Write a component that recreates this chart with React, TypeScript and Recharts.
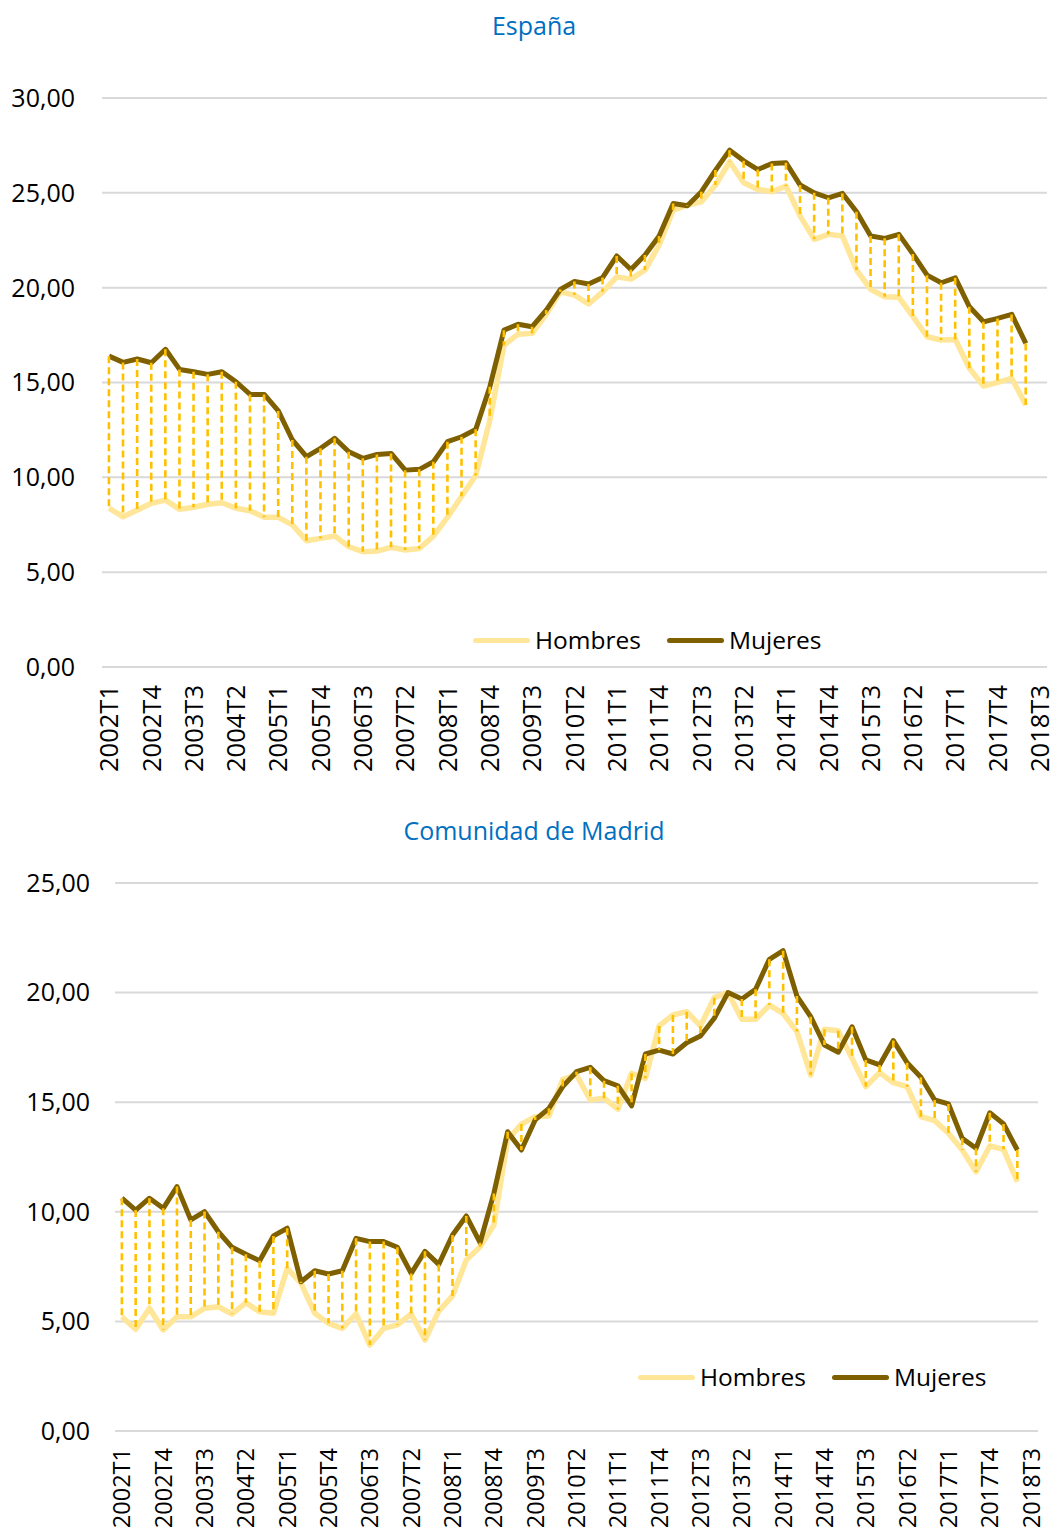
import React from "react";
import {
  ComposedChart,
  Line,
  Bar,
  XAxis,
  YAxis,
  CartesianGrid,
} from "recharts";

const FONT = "'Open Sans', sans-serif";

// trimestres 2002T1 - 2018T3
const quarters = [
  "2002T1", "2002T2", "2002T3", "2002T4", "2003T1", "2003T2", "2003T3", "2003T4",
  "2004T1", "2004T2", "2004T3", "2004T4", "2005T1", "2005T2", "2005T3", "2005T4",
  "2006T1", "2006T2", "2006T3", "2006T4", "2007T1", "2007T2", "2007T3", "2007T4",
  "2008T1", "2008T2", "2008T3", "2008T4", "2009T1", "2009T2", "2009T3", "2009T4",
  "2010T1", "2010T2", "2010T3", "2010T4", "2011T1", "2011T2", "2011T3", "2011T4",
  "2012T1", "2012T2", "2012T3", "2012T4", "2013T1", "2013T2", "2013T3", "2013T4",
  "2014T1", "2014T2", "2014T3", "2014T4", "2015T1", "2015T2", "2015T3", "2015T4",
  "2016T1", "2016T2", "2016T3", "2016T4", "2017T1", "2017T2", "2017T3", "2017T4",
  "2018T1", "2018T2", "2018T3",
];

const espanaHombres = [
  8.37, 7.92, 8.28, 8.63, 8.8, 8.31, 8.42, 8.58, 8.66, 8.37, 8.24, 7.89,
  7.89, 7.49, 6.66, 6.78, 6.91, 6.34, 6.08, 6.11, 6.31, 6.17, 6.25, 6.9,
  7.9, 9.0, 10.1, 13.02, 16.97, 17.55, 17.59, 18.61, 19.78, 19.61, 19.14, 19.78,
  20.57, 20.45, 20.93, 22.25, 24.09, 24.35, 24.53, 25.41, 26.64, 25.53, 25.18, 25.06,
  25.36, 23.77, 22.55, 22.81, 22.72, 20.93, 19.91, 19.52, 19.49, 18.47, 17.41, 17.24,
  17.27, 15.75, 14.81, 15.01, 15.22, 13.81,
];

const espanaMujeres = [
  16.39, 16.06, 16.24, 16.04, 16.75, 15.69, 15.57, 15.43, 15.57, 15.04, 14.37, 14.37,
  13.5, 11.97, 11.09, 11.53, 12.06, 11.35, 11.0, 11.21, 11.26, 10.38, 10.42, 10.82,
  11.88, 12.14, 12.53, 14.78, 17.76, 18.07, 17.94, 18.82, 19.91, 20.33, 20.19, 20.54,
  21.67, 20.96, 21.72, 22.72, 24.44, 24.32, 25.06, 26.2, 27.25, 26.69, 26.23, 26.55,
  26.58, 25.41, 25.0, 24.74, 24.97, 24.0, 22.72, 22.6, 22.81, 21.77, 20.66, 20.26,
  20.52, 18.99, 18.2, 18.38, 18.59, 17.06,
];

const madridHombres = [
  5.21, 4.64, 5.6, 4.61, 5.21, 5.21, 5.6, 5.67, 5.34, 5.85, 5.44, 5.37,
  7.42, 6.75, 5.37, 4.91, 4.68, 5.34, 3.92, 4.68, 4.84, 5.34, 4.15, 5.47,
  6.16, 7.8, 8.4, 9.4, 13.28, 14.0, 14.34, 14.37, 16.04, 16.24, 15.1, 15.18,
  14.68, 16.32, 16.09, 18.48, 18.98, 19.13, 18.48, 19.77, 20.0, 18.78, 18.78, 19.43,
  19.05, 18.22, 16.24, 18.33, 18.26, 17.0, 15.71, 16.35, 15.89, 15.71, 14.34, 14.16,
  13.58, 12.82, 11.83, 13.0, 12.85, 11.37,
];

const madridMujeres = [
  10.62, 10.08, 10.62, 10.16, 11.15, 9.63, 10.01, 9.09, 8.38, 8.06, 7.77, 8.9,
  9.25, 6.81, 7.31, 7.16, 7.31, 8.79, 8.64, 8.64, 8.38, 7.19, 8.2, 7.6,
  8.94, 9.81, 8.59, 10.84, 13.65, 12.82, 14.19, 14.72, 15.71, 16.39, 16.59, 15.98,
  15.75, 14.83, 17.2, 17.38, 17.2, 17.71, 18.02, 18.83, 20.0, 19.71, 20.15, 21.52,
  21.91, 19.84, 18.9, 17.61, 17.28, 18.44, 16.93, 16.7, 17.81, 16.8, 16.14, 15.1,
  14.92, 13.35, 12.9, 14.52, 14.01, 12.82,
];

const espanaTicks = [0, 5, 10, 15, 20, 25, 30];
const madridTicks = [0, 5, 10, 15, 20, 25];

const HOMBRES_COLOR = "#FFE699";
const MUJERES_COLOR = "#7F6000";
const DROP_COLOR = "#FFC000";

function buildRows(h: number[], m: number[]) {
  return quarters.map((q, i) => ({
    q,
    hombres: h[i] ?? null,
    mujeres: m[i] ?? null,
    gap: h[i] == null || m[i] == null ? null : [Math.min(h[i], m[i]), Math.max(h[i], m[i])],
  }));
}

const fmt = (v: number) => v.toFixed(2).replace(".", ",");

const makeQuarterTick = (size: number) => (props: any) => {
  const { x, y, payload } = props;
  return (
    <text
      x={x}
      y={y}
      transform={`rotate(-90, ${x}, ${y})`}
      textAnchor="end"
      dy="0.36em"
      fontSize={size}
      fontFamily={FONT}
      fill="#000"
    >
      {payload.value}
    </text>
  );
};

// línea de unión discontinua entre hombres y mujeres
const DropLine = (props: any) => {
  const { x, y, width, height } = props;
  if (x == null || y == null) return null;
  const cx = x + width / 2;
  const top = Math.min(y, y + height);
  const bottom = Math.max(y, y + height);
  return (
    <line
      x1={cx}
      x2={cx}
      y1={top}
      y2={bottom}
      stroke={DROP_COLOR}
      strokeWidth={2.6}
      strokeDasharray="7 4"
    />
  );
};

const LegendSwatch = ({ color, label, gap }: { color: string; label: string; gap: number }) => (
  <div style={{ display: "flex", alignItems: "center", marginRight: gap }}>
    <div style={{ width: 57, height: 5, borderRadius: 3, background: color, marginRight: 5 }} />
    <span style={{ fontSize: 24.5, fontFamily: FONT, color: "#000", lineHeight: "30px" }}>{label}</span>
  </div>
);

type PanelProps = {
  title: string;
  rows: any[];
  ticks: number[];
  height: number;
  margin: { top: number; right: number; left: number; bottom: number };
  yWidth: number;
  yMargin: number;
  xHeight: number;
  xMargin: number;
  xFont: number;
  legendPos: { left: number; top: number };
  legendGap: number;
  titleTop: number;
};

function Panel(p: PanelProps) {
  const Tick = makeQuarterTick(p.xFont);
  return (
    <div style={{ position: "relative", width: 1055, height: p.height }}>
      <div
        style={{
          position: "absolute",
          left: 0,
          width: 1068,
          top: p.titleTop,
          textAlign: "center",
          fontFamily: FONT,
          fontSize: 25,
          lineHeight: "34px",
          color: "#0070C0",
        }}
      >
        {p.title}
      </div>
      <ComposedChart width={1055} height={p.height} data={p.rows} margin={p.margin}>
        <CartesianGrid vertical={false} stroke="#D9D9D9" strokeWidth={2} />
        <XAxis
          dataKey="q"
          interval={2}
          height={p.xHeight}
          axisLine={false}
          tickLine={false}
          tickSize={0}
          tickMargin={p.xMargin}
          tick={<Tick />}
        />
        <YAxis
          width={p.yWidth}
          domain={[p.ticks[0], p.ticks[p.ticks.length - 1]]}
          ticks={p.ticks}
          tickFormatter={fmt}
          axisLine={false}
          tickLine={false}
          tickSize={0}
          tickMargin={p.yMargin}
          tick={{ fontSize: 25, fontFamily: FONT, fill: "#000" }}
        />
        <Line
          dataKey="hombres"
          name="Hombres"
          stroke={HOMBRES_COLOR}
          strokeWidth={5.5}
          dot={false}
          strokeLinejoin="round"
          isAnimationActive={false}
        />
        <Line
          dataKey="mujeres"
          name="Mujeres"
          stroke={MUJERES_COLOR}
          strokeWidth={5}
          dot={false}
          strokeLinejoin="round"
          isAnimationActive={false}
        />
        <Bar
          dataKey="gap"
          legendType="none"
          shape={<DropLine />}
          isAnimationActive={false}
          zIndex={500}
        />
      </ComposedChart>
      <div
        style={{
          position: "absolute",
          left: p.legendPos.left,
          top: p.legendPos.top,
          display: "flex",
          alignItems: "center",
        }}
      >
        <LegendSwatch color={HOMBRES_COLOR} label="Hombres" gap={p.legendGap} />
        <LegendSwatch color={MUJERES_COLOR} label="Mujeres" gap={0} />
      </div>
    </div>
  );
}

export default function App() {
  return (
    <div style={{ position: "absolute", left: 0, top: 0, width: 1055, height: 1530, background: "#fff" }}>
      <Panel
        title="España"
        rows={buildRows(espanaHombres, espanaMujeres)}
        ticks={espanaTicks}
        height={800}
        margin={{ top: 98, right: 8, left: 0, bottom: 0 }}
        yWidth={102}
        yMargin={27}
        xHeight={133}
        xMargin={18}
        xFont={25.5}
        legendPos={{ left: 473, top: 625 }}
        legendGap={26}
        titleTop={8}
      />
      <Panel
        title="Comunidad de Madrid"
        rows={buildRows(madridHombres, madridMujeres)}
        ticks={madridTicks}
        height={730}
        margin={{ top: 83, right: 17, left: 0, bottom: 0 }}
        yWidth={115}
        yMargin={25}
        xHeight={99}
        xMargin={17}
        xFont={23.5}
        legendPos={{ left: 638, top: 562 }}
        legendGap={26}
        titleTop={13}
      />
    </div>
  );
}
